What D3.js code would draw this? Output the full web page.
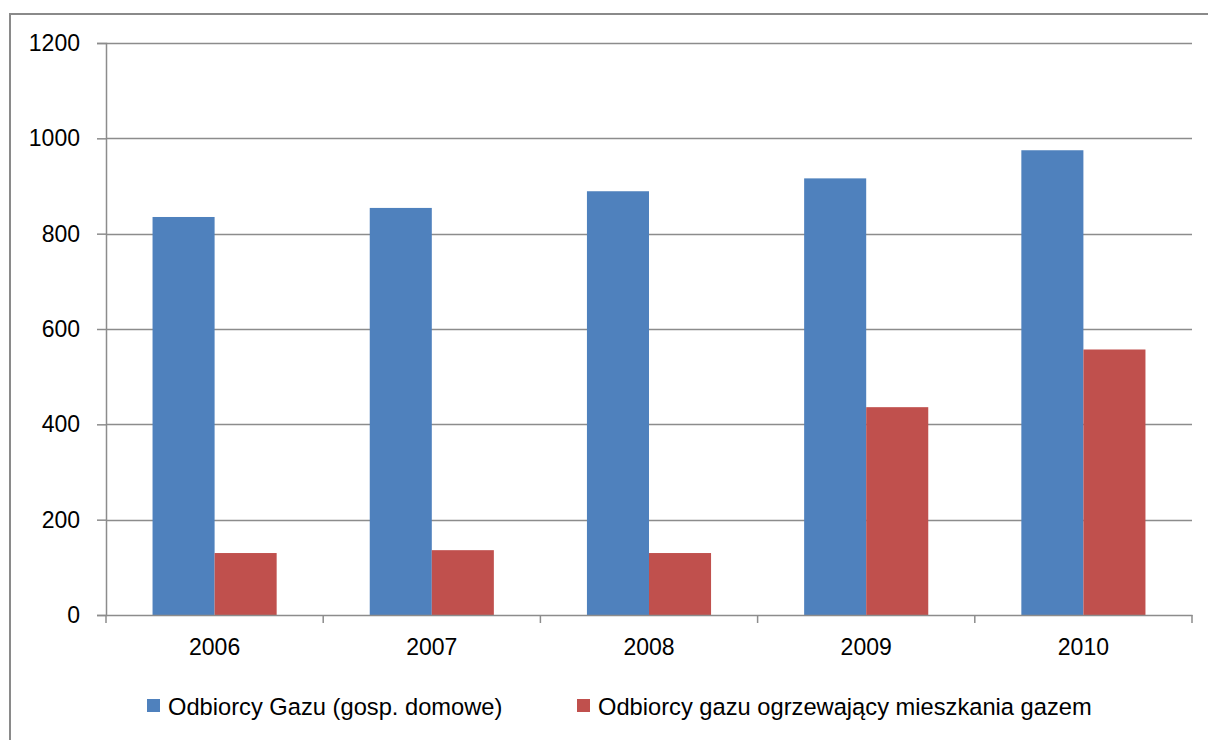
<!DOCTYPE html>
<html>
<head>
<meta charset="utf-8"/>
<title>Odbiorcy gazu</title>
<style>
  * { margin: 0; padding: 0; }
  body { background: #fff; width: 1208px; height: 740px; overflow: hidden; }
  svg { display: block; }
  text { font-family: "Liberation Sans", Arial, sans-serif; fill: #000; }
  .tick text { font-size: 23px; }
  .grid line { stroke: #8c8c8c; stroke-width: 1.5px; }
  .legend text { font-size: 23.7px; }
</style>
<script src="https://d3js.org/d3.v7.min.js"></script>
</head>
<body>
<svg width="1208" height="740"></svg>
<script>
// data
const years = ['2006', '2007', '2008', '2009', '2010'];
const households = [835, 854, 889, 916, 975];      // Odbiorcy Gazu (gosp. domowe)
const heating = [130, 136, 130, 436, 557];          // Odbiorcy gazu ogrzewający mieszkania gazem
const seriesNames = ['Odbiorcy Gazu (gosp. domowe)', 'Odbiorcy gazu ogrzewający mieszkania gazem'];
const yTicks = [0, 200, 400, 600, 800, 1000, 1200];

const colors = ['#4f81bd', '#c0504d'];

const svg = d3.select('svg');

// outer frame of the chart
svg.append('rect')
  .attr('x', 10).attr('y', 14)
  .attr('width', 1208).attr('height', 740)
  .attr('fill', 'none')
  .attr('stroke', '#8a8a8a')
  .attr('stroke-width', 2);

const plotLeft = 106, plotTop = 43, plotRight = 1192, plotBottom = 615;

const x = d3.scaleBand()
  .domain(years)
  .range([plotLeft, plotRight]);

// two bars per group, gap of 150% of a bar
const inner = d3.scaleBand()
  .domain([0, 1])
  .range([0, x.bandwidth()])
  .paddingOuter(0.75)
  .paddingInner(0);

const y = d3.scaleLinear()
  .domain([0, 1200])
  .range([plotBottom, plotTop]);

// horizontal gridlines
svg.append('g')
  .attr('class', 'grid')
  .selectAll('line')
  .data(yTicks.filter(d => d > 0))
  .join('line')
  .attr('x1', plotLeft).attr('x2', plotRight)
  .attr('y1', d => Math.round(y(d)) + 0.5)
  .attr('y2', d => Math.round(y(d)) + 0.5);

// y axis
const yAxis = svg.append('g')
  .attr('transform', `translate(${plotLeft},0)`)
  .call(d3.axisLeft(y).tickValues(yTicks).tickSize(9).tickPadding(17).tickFormat(d3.format('d')));
yAxis.selectAll('line, path').attr('stroke', '#8c8c8c').attr('stroke-width', 1.5);

// bars
const rows = years.map((yr, i) => ({ year: yr, values: [households[i], heating[i]] }));

svg.append('g')
  .selectAll('g')
  .data(rows)
  .join('g')
  .attr('transform', d => `translate(${x(d.year)},0)`)
  .selectAll('rect')
  .data(d => d.values.map((v, k) => ({ k: k, v: v })))
  .join('rect')
  .attr('x', d => inner(d.k))
  .attr('width', inner.bandwidth())
  .attr('y', d => y(d.v))
  .attr('height', d => y(0) - y(d.v))
  .attr('fill', d => colors[d.k]);

// x axis, ticks between the categories
const xAxis = svg.append('g')
  .attr('transform', `translate(0,${plotBottom})`)
  .call(d3.axisBottom(x).tickSize(0).tickPadding(24));
xAxis.select('.domain').attr('stroke', '#8c8c8c').attr('stroke-width', 1.5);
xAxis.selectAll('.tick line').remove();

svg.append('g')
  .selectAll('line')
  .data(years.map(d => x(d)).concat([plotRight]))
  .join('line')
  .attr('x1', d => d).attr('x2', d => d)
  .attr('y1', plotBottom).attr('y2', plotBottom + 8)
  .attr('stroke', '#8c8c8c')
  .attr('stroke-width', 1.5);

// legend
const legend = svg.append('g').attr('class', 'legend');
const legendX = [147, 577];
seriesNames.forEach((name, k) => {
  legend.append('rect')
    .attr('x', legendX[k]).attr('y', 699)
    .attr('width', 13).attr('height', 13)
    .attr('fill', colors[k]);
  legend.append('text')
    .attr('x', legendX[k] + 21).attr('y', 715)
    .text(name);
});
</script>
</body>
</html>
